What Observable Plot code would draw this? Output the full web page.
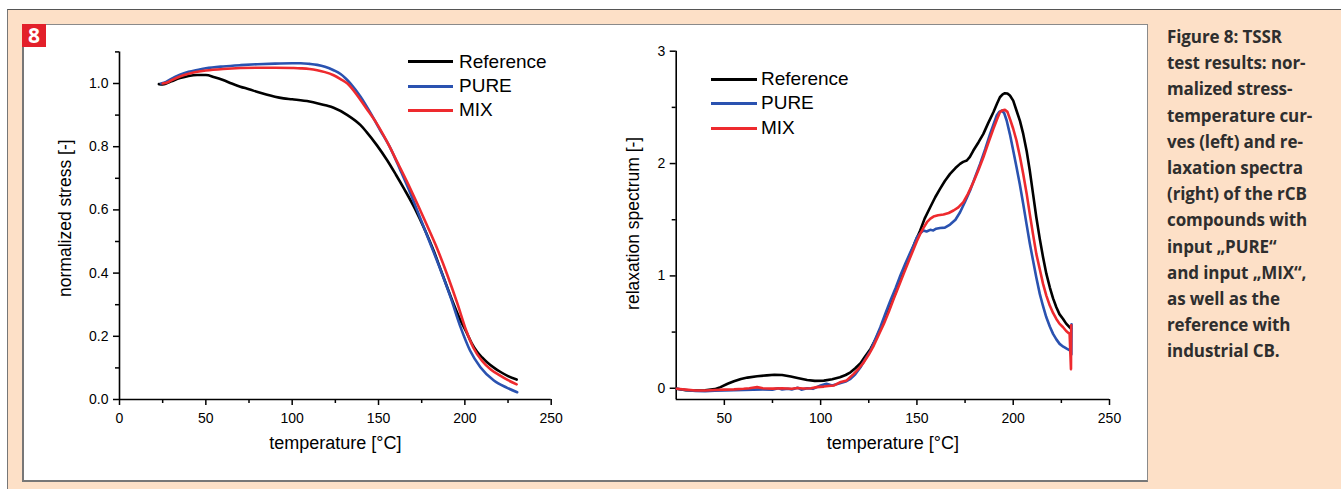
<!DOCTYPE html>
<html><head><meta charset="utf-8">
<script src="https://cdn.jsdelivr.net/npm/d3@7"></script>
<script src="https://cdn.jsdelivr.net/npm/@observablehq/plot@0.6"></script>
<style>
html,body{margin:0;padding:0;background:#fff;}
body{width:1341px;height:489px;position:relative;overflow:hidden;font-family:"Liberation Sans",Arial,sans-serif;}
#outer{position:absolute;left:7px;top:9px;width:1334px;height:480px;background:#fde0c7;border-top:1.5px solid #555;border-left:1.5px solid #777;box-sizing:border-box;}
#panel{position:absolute;left:22px;top:24px;width:1126px;height:458px;background:#fff;border:1px solid #8a8a8a;border-left:2px solid #777;border-bottom:2px solid #777;box-sizing:border-box;}
#badge{position:absolute;left:22px;top:24px;width:24px;height:23px;background:#e3202a;color:#fff;font:bold 21px/23px "Open Sans",sans-serif;text-align:center;}
#caption{position:absolute;left:1167px;top:24px;width:172px;font:bold 17px/26.2px "Open Sans",sans-serif;color:#2e2e2e;white-space:nowrap;letter-spacing:-0.1px;}
.chart{position:absolute;top:0;}
.leg{position:absolute;font:19px/20px "Liberation Sans",Arial,sans-serif;color:#000;}
.sw{position:absolute;height:3px;}
</style>
</head><body>
<div id="outer"></div>
<div id="panel"></div>
<div id="badge">8</div>
<div id="caption"></div>
<div id="left" class="chart" style="left:0px"></div>
<div id="right" class="chart" style="left:600px"></div>
<div id="legends"></div>
<script>
// ---------- series / labels ----------
const seriesNames = ["Reference", "PURE", "MIX"];
const seriesColors = ["#000000", "#2a52b0", "#ee2a2e"];
const xTitle = "temperature [°C]";
const leftYTitle = "normalized stress [-]";
const rightYTitle = "relaxation spectrum [-]";
const captionLines = ["Figure 8: TSSR", "test results: nor-", "malized stress-", "temperature cur-", "ves (left) and re-", "laxation spectra", "(right) of the rCB", "compounds with", "input \u201ePURE\u201c", "and input \u201eMIX\u201c,", "as well as the", "reference with", "industrial CB."];

// ---------- ticks ----------
const leftXMajor = [0, 50, 100, 150, 200, 250];
const leftXMinor = [25, 75, 125, 175, 225];
const leftYMajor = [0, 0.2, 0.4, 0.6, 0.8, 1.0];
const leftYMinor = [0.1, 0.3, 0.5, 0.7, 0.9, 1.1];
const rightXMajor = [50, 100, 150, 200, 250];
const rightXMinor = [75, 125, 175, 225];
const rightYMajor = [0, 1, 2, 3];
const rightYMinor = [0.5, 1.5, 2.5];

// ---------- left: normalized stress ----------
const stressRefT = [22.8, 25, 30, 35, 40, 45, 50, 55, 60, 65, 70, 75, 80, 85, 90, 95, 100, 110, 115, 120, 124, 132, 139.6, 143, 149, 155, 160, 165, 171, 177, 182, 186.4, 190, 194, 197.5, 201, 204, 207, 210, 213, 217, 220.7, 225, 230];
const stressRefV = [0.998, 0.997, 1.007, 1.017, 1.024, 1.027, 1.027, 1.02, 1.011, 1.0, 0.99, 0.982, 0.973, 0.965, 0.958, 0.953, 0.95, 0.943, 0.937, 0.93, 0.923, 0.9, 0.868, 0.847, 0.805, 0.757, 0.712, 0.665, 0.605, 0.535, 0.47, 0.405, 0.352, 0.295, 0.25, 0.212, 0.178, 0.152, 0.133, 0.117, 0.1, 0.087, 0.074, 0.063];
const stressPureT = [24, 27, 30, 35, 40, 45, 50, 60, 70, 80, 90, 100, 105, 110, 114.5, 119, 124, 128, 131, 133.8, 139.6, 145, 151, 157, 162.7, 168.5, 174.3, 180, 186, 191.7, 197.5, 203, 209, 216.8, 224.5, 230.3];
const stressPureV = [1.0, 1.005, 1.015, 1.028, 1.037, 1.043, 1.048, 1.054, 1.058, 1.061, 1.063, 1.064, 1.064, 1.062, 1.059, 1.053, 1.042, 1.03, 1.016, 1.0, 0.958, 0.91, 0.852, 0.794, 0.725, 0.652, 0.572, 0.493, 0.409, 0.324, 0.229, 0.155, 0.102, 0.06, 0.037, 0.023];
const stressMixT = [25, 28, 30, 35, 40, 45, 50, 60, 70, 80, 90, 100, 105, 110, 114.5, 119, 124, 128, 132, 137.6, 143, 149, 155, 160.8, 166.6, 172.4, 178, 184, 189.8, 195.6, 201, 205, 210, 215, 220, 225, 230];
const stressMixV = [1.0, 1.004, 1.01, 1.022, 1.031, 1.037, 1.041, 1.046, 1.049, 1.05, 1.05, 1.049, 1.048, 1.046, 1.042, 1.036, 1.026, 1.014, 1.0, 0.963, 0.921, 0.873, 0.815, 0.752, 0.688, 0.62, 0.552, 0.477, 0.395, 0.305, 0.215, 0.163, 0.122, 0.095, 0.077, 0.061, 0.048];

// ---------- right: relaxation spectrum ----------
const specRefT = [25.3, 30, 35, 40, 45, 48, 51.7, 55, 58.6, 62, 67, 72, 76, 80, 84.5, 88, 93, 97, 101.7, 106, 110, 113, 115.5, 118, 120.7, 123, 125.9, 128.5, 131, 133.5, 136.2, 139, 141.4, 144, 146.6, 149, 151.7, 154, 156.9, 159.5, 162, 164.5, 167.2, 170, 172.4, 174, 175.9, 177.5, 179.3, 182, 184.5, 187, 189.7, 191.5, 193.1, 194.5, 195.7, 197, 198.3, 200, 201.7, 203.5, 205.2, 207, 208.6, 210.3, 212, 213.8, 215.5, 217.2, 219, 220.7, 222.4, 224, 225.9, 227.5, 229.3, 230];
const specRefV = [-0.005, -0.018, -0.02, -0.018, -0.008, 0.01, 0.04, 0.062, 0.083, 0.095, 0.107, 0.115, 0.12, 0.118, 0.104, 0.092, 0.074, 0.066, 0.068, 0.08, 0.098, 0.118, 0.142, 0.178, 0.223, 0.28, 0.35, 0.435, 0.528, 0.63, 0.736, 0.855, 0.973, 1.085, 1.196, 1.3, 1.404, 1.51, 1.611, 1.7, 1.774, 1.845, 1.908, 1.96, 1.997, 2.015, 2.027, 2.06, 2.116, 2.19, 2.264, 2.36, 2.457, 2.53, 2.59, 2.615, 2.626, 2.624, 2.605, 2.56, 2.472, 2.38, 2.264, 2.11, 1.938, 1.73, 1.522, 1.33, 1.166, 1.02, 0.899, 0.8, 0.721, 0.66, 0.617, 0.575, 0.543, 0.53];
const specPureT = [25.3, 30, 35, 40, 45, 50, 55, 60, 65, 70, 75, 78, 80, 83, 85, 88, 90, 93, 96, 98, 100, 103, 106, 110, 113, 115.5, 118, 120.7, 123, 125.9, 128.5, 131, 133.5, 136.2, 139, 141.4, 144, 146.6, 148.5, 150, 151.7, 153.4, 155, 156.9, 158.5, 160, 162, 164.5, 167.2, 170, 172.4, 175, 177.6, 180, 182.8, 185.5, 188, 190, 191.4, 192.7, 194, 195.3, 196.6, 198.3, 200, 201.7, 203.4, 205.2, 206.9, 208.6, 210.3, 212, 213.8, 215.5, 217.2, 219, 220.7, 222.4, 224.1, 226, 228, 229.6, 230.2, 230.3];
const specPureV = [-0.005, -0.015, -0.025, -0.027, -0.022, -0.02, -0.018, -0.015, -0.012, -0.01, -0.012, 0.0, -0.01, -0.004, -0.01, 0.005, -0.012, 0.0, -0.005, 0.01, 0.025, 0.04, 0.025, 0.045, 0.06, 0.083, 0.125, 0.187, 0.255, 0.335, 0.44, 0.543, 0.66, 0.78, 0.895, 1.003, 1.11, 1.21, 1.28, 1.344, 1.38, 1.404, 1.395, 1.41, 1.405, 1.42, 1.427, 1.43, 1.457, 1.5, 1.567, 1.66, 1.76, 1.87, 1.997, 2.13, 2.264, 2.36, 2.427, 2.46, 2.472, 2.45, 2.383, 2.26, 2.116, 1.97, 1.819, 1.64, 1.463, 1.29, 1.137, 0.985, 0.84, 0.73, 0.632, 0.55, 0.484, 0.435, 0.395, 0.37, 0.35, 0.335, 0.3, 0.57];
const specMixT = [25.3, 30, 35, 40, 45, 50, 55, 60, 63, 67, 70, 75, 80, 85, 88, 91, 95, 98, 101.7, 104, 107, 110, 113.5, 117.2, 120, 122.4, 125, 127.6, 130, 132.8, 135.5, 137.9, 140.5, 143.1, 145.7, 148.3, 150, 151.7, 153.5, 155.2, 157, 158.6, 161, 163.8, 166.5, 169, 171.5, 174.1, 176.5, 179.3, 182, 184.5, 187, 189.7, 191.5, 193.1, 194.5, 195.7, 197, 198.3, 200, 201.7, 203.5, 205.2, 207, 208.6, 210.3, 212, 213.8, 215.5, 217.2, 219, 220.7, 222.4, 224, 225.9, 227.5, 229.3, 230, 230.1];
const specMixV = [-0.005, -0.012, -0.02, -0.02, -0.015, -0.012, -0.01, -0.005, 0.0, 0.01, 0.0, -0.003, 0.0, -0.005, 0.003, -0.002, 0.0, 0.01, 0.015, 0.02, 0.025, 0.053, 0.07, 0.128, 0.18, 0.231, 0.3, 0.38, 0.47, 0.573, 0.685, 0.795, 0.905, 1.018, 1.13, 1.24, 1.31, 1.374, 1.43, 1.478, 1.51, 1.528, 1.54, 1.546, 1.56, 1.582, 1.61, 1.656, 1.73, 1.834, 1.945, 2.056, 2.18, 2.309, 2.39, 2.457, 2.475, 2.478, 2.46, 2.398, 2.31, 2.205, 2.06, 1.908, 1.73, 1.552, 1.37, 1.196, 1.06, 0.929, 0.825, 0.736, 0.67, 0.617, 0.575, 0.543, 0.51, 0.484, 0.17, 0.56];

// ---------- build tables ----------
const rows = (series, T, V) => T.map((t, i) => ({series, t, v: V[i]}));
const leftData = [...rows("Reference", stressRefT, stressRefV), ...rows("PURE", stressPureT, stressPureV), ...rows("MIX", stressMixT, stressMixV)];
const rightData = [...rows("Reference", specRefT, specRefV), ...rows("PURE", specPureT, specPureV), ...rows("MIX", specMixT, specMixV)];

const baseStyle = {background: "transparent", color: "#000", fontFamily: "'Liberation Sans', Arial, sans-serif", fontSize: "14px", overflow: "visible"};
const color = {domain: seriesNames, range: seriesColors};

function axes(xMaj, xMin, yMaj, yMin, yFmt) {
  return [
    Plot.axisX(xMaj, {tickSize: 6, tickPadding: 8, strokeWidth: 1.5, fontSize: 14, label: null}),
    Plot.axisX(xMin, {tickSize: 4, strokeWidth: 1.5, tickFormat: () => "", label: null}),
    Plot.axisY(yMaj, {tickSize: 6, tickPadding: 5, strokeWidth: 1.5, fontSize: 14, label: null, tickFormat: yFmt}),
    Plot.axisY(yMin, {tickSize: 4, strokeWidth: 1.5, tickFormat: () => "", label: null})
  ];
}
function titles(yTitle, yDx, yDy) {
  return [
    Plot.text([xTitle], {text: d => d, frameAnchor: "bottom", lineAnchor: "middle", textAnchor: "middle", dy: 44, fontSize: 18}),
    Plot.text([yTitle], {text: d => d, frameAnchor: "left", lineAnchor: "middle", textAnchor: "middle", rotate: -90, dx: yDx, dy: yDy, fontSize: 17.5})
  ];
}

const left = Plot.plot({
  width: 600, height: 489,
  marginLeft: 119, marginRight: 49.3, marginTop: 51.4, marginBottom: 90,
  x: {domain: [0, 250]}, y: {domain: [0, 1.1]},
  color, style: baseStyle,
  marks: [
    Plot.ruleX([0], {stroke: "#000", strokeWidth: 1.6}),
    Plot.ruleY([0], {stroke: "#000", strokeWidth: 1.6}),
    ...axes(leftXMajor, leftXMinor, leftYMajor, leftYMinor, d3.format(".1f")),
    Plot.line(leftData, {x: "t", y: "v", z: "series", stroke: "series", strokeWidth: 2.6, curve: "monotone-x"}),
    ...titles(leftYTitle, -54, -7.5)
  ]
});
document.getElementById("left").append(left);

const right = Plot.plot({
  width: 541, height: 489,
  marginLeft: 75.7, marginRight: 32, marginTop: 50.7, marginBottom: 90,
  x: {domain: [25, 250]}, y: {domain: [-0.1, 3]},
  color, style: baseStyle,
  marks: [
    Plot.ruleX([25], {stroke: "#000", strokeWidth: 1.6}),
    Plot.ruleY([-0.1], {stroke: "#000", strokeWidth: 1.6}),
    ...axes(rightXMajor, rightXMinor, rightYMajor, rightYMinor, d3.format("d")),
    Plot.line(rightData, {x: "t", y: "v", z: "series", stroke: "series", strokeWidth: 2.6, curve: "linear"}),
    ...titles(rightYTitle, -43, -2)
  ]
});
document.getElementById("right").append(right);

// ---------- legends ----------
function legend(x0, x1, xt, ys) {
  const host = document.getElementById("legends");
  seriesNames.forEach((name, i) => {
    const sw = document.createElement("div");
    sw.className = "sw";
    sw.style.cssText = `left:${x0}px;top:${ys[i] - 1.5}px;width:${x1 - x0}px;background:${seriesColors[i]}`;
    const tx = document.createElement("div");
    tx.className = "leg";
    tx.style.cssText = `left:${xt}px;top:${ys[i] - 10}px`;
    tx.textContent = name;
    host.append(sw, tx);
  });
}
legend(408, 453, 459, [61.7, 86.2, 110]);
legend(711, 757, 761, [79, 103, 128]);

document.getElementById("caption").innerHTML = captionLines.join("<br>");
</script>
</body></html>
